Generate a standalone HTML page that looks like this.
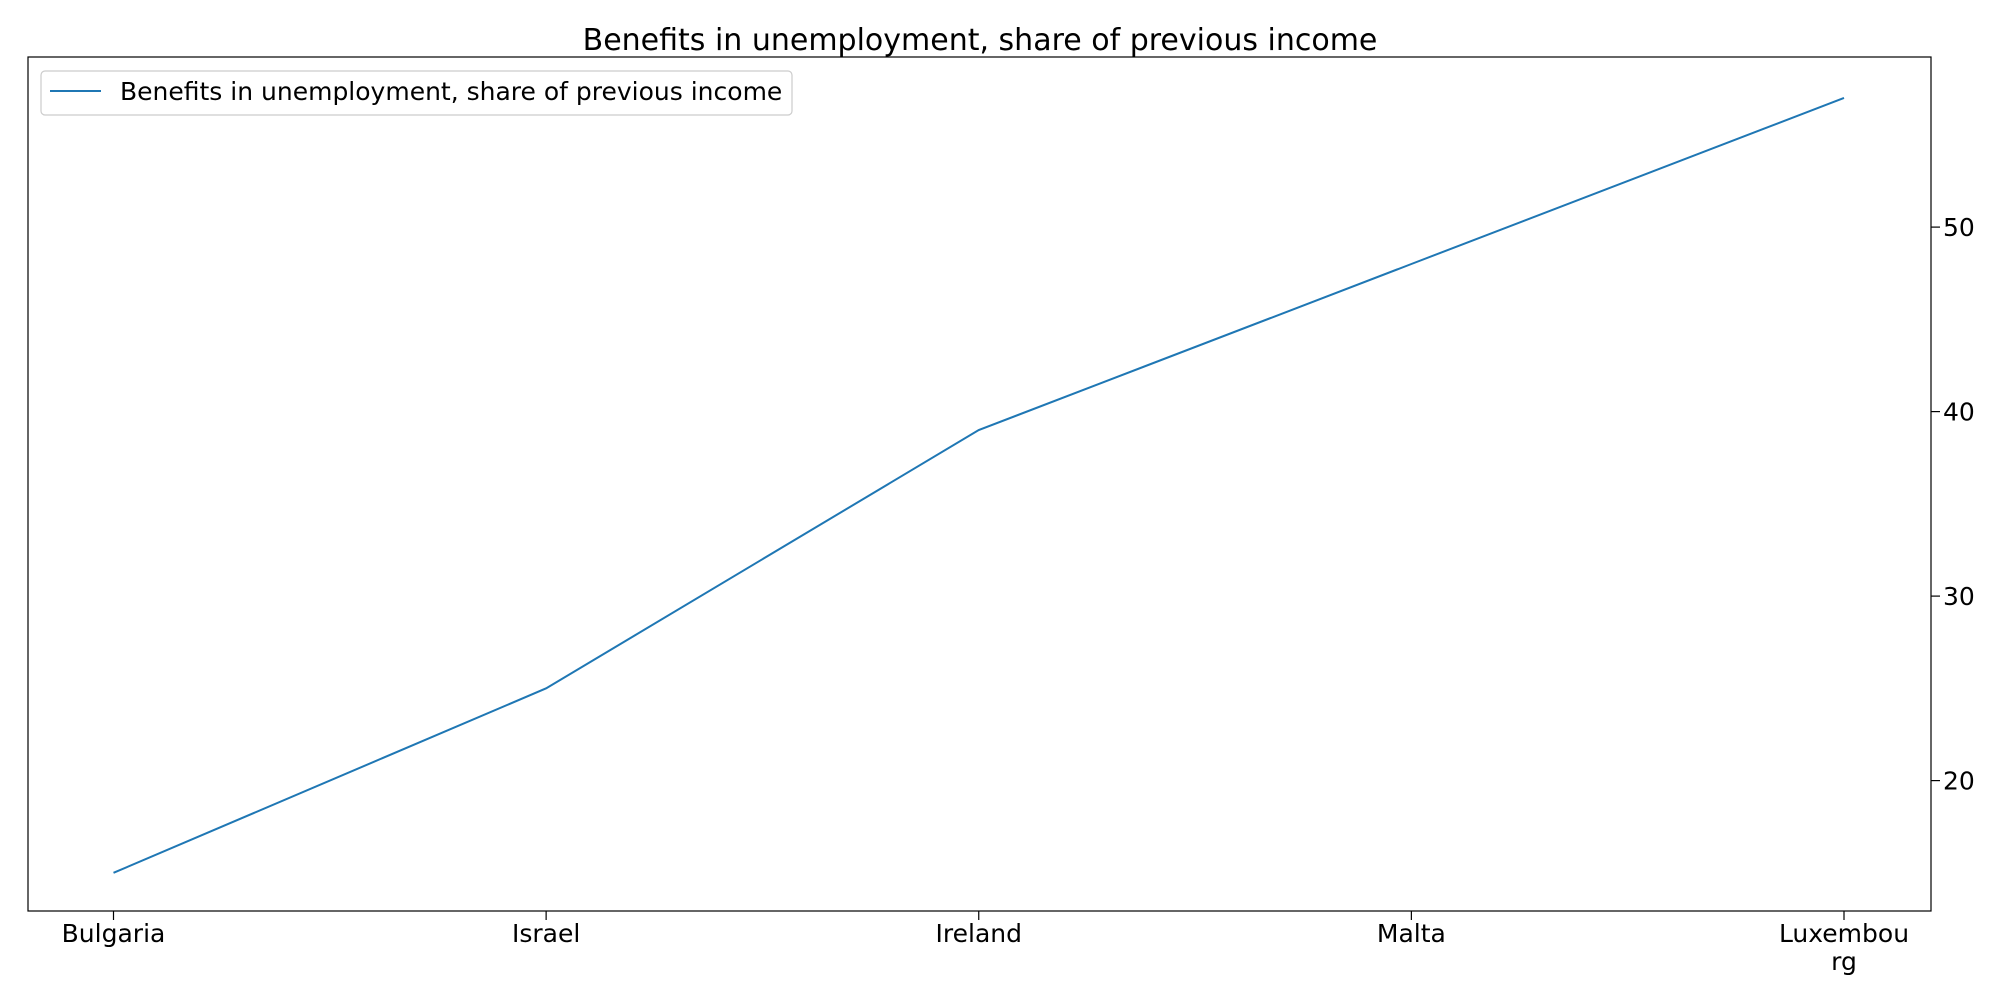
<!DOCTYPE html>
<html><head><meta charset="utf-8"><style>
html,body{margin:0;padding:0;background:#fff;}
svg{display:block;font-family:"DejaVu Sans","Liberation Sans",sans-serif;}
</style></head><body>
<svg id="chart" width="2000" height="1000" viewBox="0 0 2000 1000">
<text x="980" y="50" font-size="30" text-anchor="middle" fill="#000">Benefits in unemployment, share of previous income</text>
<rect x="28" y="57" width="1903" height="854" fill="none" stroke="#000" stroke-width="1.2"/>
<g id="xaxis"></g>
<g id="yaxis"></g>
<g id="series"></g>
<g>
<rect x="41" y="71" width="751" height="44" rx="4" fill="#fff" stroke="#ccc" stroke-width="1.2"/>
<line x1="50" y1="91" x2="101" y2="91" stroke="#1f77b4" stroke-width="2"/>
<text x="120" y="100" font-size="25" fill="#000">Benefits in unemployment, share of previous income</text>
</g>
</svg>
<script>
const categories = ["Bulgaria", "Israel", "Ireland", "Malta", "Luxembourg"];
const values = [15, 25, 39, 48, 57];
const yTicks = [20, 30, 40, 50];
const NS = "http://www.w3.org/2000/svg";
const x0 = 113.5, x1 = 1844;
function xScale(i){ return x0 + (x1 - x0) * i / (categories.length - 1); }
function yScale(v){ return 780.6 - (v - 20) * 18.45; }
function mk(tag, attrs, parent){ const e = document.createElementNS(NS, tag); for (const k in attrs) e.setAttribute(k, attrs[k]); parent.appendChild(e); return e; }
const xg = document.getElementById("xaxis"), yg = document.getElementById("yaxis"), sg = document.getElementById("series");
categories.forEach((c, i) => {
  const x = xScale(i);
  const t = mk("line", {x1: x, y1: 911, x2: x, y2: 920, stroke: "#000", "stroke-width": 1.2}, xg);
  
  
  const lab = mk("text", {x: x, y: 942, "font-size": 25, "text-anchor": "middle", fill: "#000"}, xg);
  
  
  if (c.length > 8) {
    const a = mk("tspan", {x: x}, lab); a.textContent = c.slice(0, 8);
    const b = mk("tspan", {x: x, dy: 28}, lab); b.textContent = c.slice(8);
  } else lab.textContent = c;
});
yTicks.forEach(v => {
  const y = yScale(v);
  const t = mk("line", {x1: 1931, y1: y, x2: 1940, y2: y, stroke: "#000", "stroke-width": 1.2}, yg);
  
  
  const lab = mk("text", {x: 1943, y: y + 9, "font-size": 25, fill: "#000"}, yg);
  
  
  lab.textContent = v;
});
const pts = values.map((v, i) => xScale(i) + "," + yScale(v)).join(" ");
const pl = mk("polyline", {points: pts, fill: "none", stroke: "#1f77b4", "stroke-width": 2}, sg);


</script>
</body></html>
